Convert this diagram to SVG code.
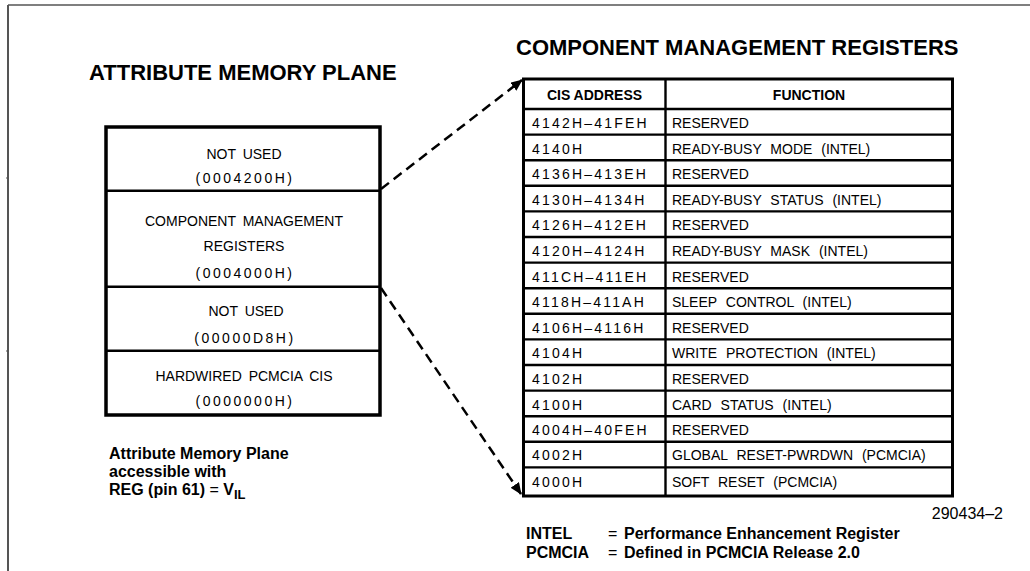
<svg xmlns="http://www.w3.org/2000/svg" width="1030" height="571" viewBox="0 0 1030 571">
<style>
.frame{stroke:#555;fill:none}
.title{font-family:"Liberation Sans",Arial,sans-serif;font-weight:bold;font-size:22px;fill:#000}
.lbl{font-family:"Liberation Sans",Arial,sans-serif;font-size:14px;fill:#000;text-anchor:middle;word-spacing:3px}
.hex{letter-spacing:2.5px}
.hdr{font-family:"Liberation Sans",Arial,sans-serif;font-weight:bold;font-size:14px;fill:#000;text-anchor:middle}
.addr{font-family:"Liberation Sans",Arial,sans-serif;font-size:14px;fill:#000;letter-spacing:2.2px}
.fn{font-family:"Liberation Sans",Arial,sans-serif;font-size:14px;fill:#000;word-spacing:5px}
.note{font-family:"Liberation Sans",Arial,sans-serif;font-weight:bold;font-size:16px;fill:#000}
.eq{font-weight:normal}
.thick{stroke:#000;stroke-width:3.5;fill:none}
.div{stroke:#000;stroke-width:2.4;fill:none}
.conn{stroke:#000;stroke-width:2.5;fill:none;stroke-dasharray:10 6}
</style>
<defs>
<marker id="ah" markerUnits="userSpaceOnUse" markerWidth="12" markerHeight="10" refX="11" refY="5" orient="auto">
<path d="M0,0 L12,5 L0,10 Z" fill="#000"/>
</marker>
</defs>
<g id="frame">
<line class="frame" x1="8" y1="5" x2="1030" y2="5" stroke-width="1.5"/>
<line class="frame" x1="8" y1="5" x2="8" y2="571" stroke-width="2"/>
<line class="frame" x1="6" y1="178" x2="9" y2="178" stroke-width="1"/>
<line class="frame" x1="6" y1="351" x2="9" y2="351" stroke-width="1"/>
</g>
<text id="title-left" class="title" x="89" y="80">ATTRIBUTE MEMORY PLANE</text>
<text id="title-right" class="title" x="516" y="55">COMPONENT MANAGEMENT REGISTERS</text>
<g id="memory-plane">
<rect class="thick" x="106" y="127" width="274" height="288"/>
<g id="mem-not-used-high">
<text class="lbl" x="244" y="159">NOT USED</text>
<text class="lbl hex" x="245" y="183">(0004200H)</text>
</g>
<line class="div" x1="106" y1="190.7" x2="380" y2="190.7"/>
<g id="mem-cmr">
<text class="lbl" x="244" y="226">COMPONENT MANAGEMENT</text>
<text class="lbl" x="244" y="251">REGISTERS</text>
<text class="lbl hex" x="245" y="278">(0004000H)</text>
</g>
<line class="div" x1="106" y1="286.7" x2="380" y2="286.7"/>
<g id="mem-not-used-low">
<text class="lbl" x="246" y="316">NOT USED</text>
<text class="lbl hex" x="245" y="343">(00000D8H)</text>
</g>
<line class="div" x1="106" y1="350.7" x2="380" y2="350.7"/>
<g id="mem-cis">
<text class="lbl" x="244" y="381">HARDWIRED PCMCIA CIS</text>
<text class="lbl hex" x="245" y="405.5">(0000000H)</text>
</g>
</g>
<g id="mem-note">
<text class="note" x="109" y="459">Attribute Memory Plane</text>
<text class="note" x="109" y="477">accessible with</text>
<text class="note" x="109" y="495">REG (pin 61) <tspan class="eq">=</tspan> V<tspan dy="4" font-size="13">IL</tspan></text>
</g>
<g id="cmr-table">
<rect x="523.5" y="79" width="429" height="417" fill="none" stroke="#000" stroke-width="3"/>
<line class="div" x1="665.5" y1="79" x2="665.5" y2="496"/>
<g id="table-lines">
<line class="div" x1="523.5" y1="109" x2="952.5" y2="109"/>
<line class="div" x1="523.5" y1="134.6" x2="952.5" y2="134.6"/>
<line class="div" x1="523.5" y1="160.2" x2="952.5" y2="160.2"/>
<line class="div" x1="523.5" y1="185.8" x2="952.5" y2="185.8"/>
<line class="div" x1="523.5" y1="211.4" x2="952.5" y2="211.4"/>
<line class="div" x1="523.5" y1="237" x2="952.5" y2="237"/>
<line class="div" x1="523.5" y1="262.6" x2="952.5" y2="262.6"/>
<line class="div" x1="523.5" y1="288.2" x2="952.5" y2="288.2"/>
<line class="div" x1="523.5" y1="313.8" x2="952.5" y2="313.8"/>
<line class="div" x1="523.5" y1="339.4" x2="952.5" y2="339.4"/>
<line class="div" x1="523.5" y1="365" x2="952.5" y2="365"/>
<line class="div" x1="523.5" y1="390.6" x2="952.5" y2="390.6"/>
<line class="div" x1="523.5" y1="416.2" x2="952.5" y2="416.2"/>
<line class="div" x1="523.5" y1="441.8" x2="952.5" y2="441.8"/>
<line class="div" x1="523.5" y1="467.4" x2="952.5" y2="467.4"/>
</g>
<g id="table-header">
<text class="hdr" x="594.5" y="99.5">CIS ADDRESS</text>
<text class="hdr" x="809" y="99.5">FUNCTION</text>
</g>
<g id="row-01"><text class="addr" x="532" y="128">4142H–41FEH</text><text class="fn" x="672" y="128">RESERVED</text></g>
<g id="row-02"><text class="addr" x="532" y="153.6">4140H</text><text class="fn" x="672" y="153.6">READY-BUSY MODE (INTEL)</text></g>
<g id="row-03"><text class="addr" x="532" y="179.2">4136H–413EH</text><text class="fn" x="672" y="179.2">RESERVED</text></g>
<g id="row-04"><text class="addr" x="532" y="204.8">4130H–4134H</text><text class="fn" x="672" y="204.8">READY-BUSY STATUS (INTEL)</text></g>
<g id="row-05"><text class="addr" x="532" y="230.4">4126H–412EH</text><text class="fn" x="672" y="230.4">RESERVED</text></g>
<g id="row-06"><text class="addr" x="532" y="256">4120H–4124H</text><text class="fn" x="672" y="256">READY-BUSY MASK (INTEL)</text></g>
<g id="row-07"><text class="addr" x="532" y="281.6">411CH–411EH</text><text class="fn" x="672" y="281.6">RESERVED</text></g>
<g id="row-08"><text class="addr" x="532" y="307.2">4118H–411AH</text><text class="fn" x="672" y="307.2">SLEEP CONTROL (INTEL)</text></g>
<g id="row-09"><text class="addr" x="532" y="332.8">4106H–4116H</text><text class="fn" x="672" y="332.8">RESERVED</text></g>
<g id="row-10"><text class="addr" x="532" y="358.4">4104H</text><text class="fn" x="672" y="358.4">WRITE PROTECTION (INTEL)</text></g>
<g id="row-11"><text class="addr" x="532" y="384">4102H</text><text class="fn" x="672" y="384">RESERVED</text></g>
<g id="row-12"><text class="addr" x="532" y="409.6">4100H</text><text class="fn" x="672" y="409.6">CARD STATUS (INTEL)</text></g>
<g id="row-13"><text class="addr" x="532" y="435.2">4004H–40FEH</text><text class="fn" x="672" y="435.2">RESERVED</text></g>
<g id="row-14"><text class="addr" x="532" y="460">4002H</text><text class="fn" x="672" y="460">GLOBAL RESET-PWRDWN (PCMCIA)</text></g>
<g id="row-15"><text class="addr" x="532" y="487">4000H</text><text class="fn" x="672" y="487">SOFT RESET (PCMCIA)</text></g>
</g>
<g id="connectors">
<line class="conn" x1="381" y1="189" x2="522" y2="80" marker-end="url(#ah)"/>
<line class="conn" x1="381" y1="288" x2="521" y2="494" marker-end="url(#ah)"/>
</g>
<text id="fig-number" class="note" style="font-weight:normal" x="1003" y="519" text-anchor="end">290434–2</text>
<g id="legend">
<text class="note" x="526" y="539">INTEL</text>
<text class="note eq" x="608" y="539">=</text>
<text class="note" x="624" y="539">Performance Enhancement Register</text>
<text class="note" x="526" y="558">PCMCIA</text>
<text class="note eq" x="608" y="558">=</text>
<text class="note" x="624" y="558">Defined in PCMCIA Release 2.0</text>
</g>
</svg>
